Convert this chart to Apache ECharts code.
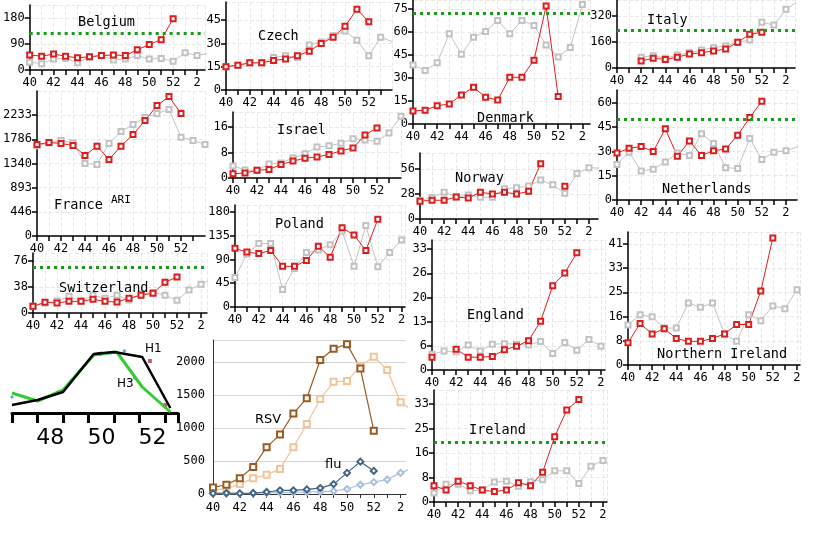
<!DOCTYPE html>
<html>
<head>
<meta charset="utf-8">
<script src="https://cdn.jsdelivr.net/npm/echarts@6/dist/echarts.min.js"></script>
<style>html,body{margin:0;background:#fff}#c{width:840px;height:560px}</style>
</head>
<body>
<div id="c"></div>
<script>
// 周次（40..52, 1, 2, 3）
const weeks = ['40','41','42','43','44','45','46','47','48','49','50','51','52','1','2','3'];

// 各国数据：红=本季，灰=上一季，绿=阈值
const belgiumRed = [52,48,55,48,42,46,50,52,50,70,88,105,177];
const belgiumGrey = [27,22,38,40,25,45,50,35,38,50,38,40,30,60,50,58];
const belgiumLimit = 128;
const czechRed = [15,16,17.5,17.5,19,20,22,25,30,34,41,52,44];
const czechGrey = [15,16,17.5,17.5,21,22,21,29,31,35,38,32,22,34,31];
const denmarkRed = [8.5,9,12,13,19,24,17.5,15.6,30.5,30.5,41.7,77,18];
const denmarkGrey = [38.5,35,40,59,45.6,56.7,60.5,67.6,59,67.6,64.4,51.6,43.7,50,78];
const denmarkLimit = 72.4;
const italyRed = [null,null,43,60,53,66,86,94,105,117,158,207,220];
const italyGrey = [null,null,66,76,60,80,94,111,125,135,158,172,281,264,361,408];
const italyLimit = 229;
const franceRed = [1692,1729,1710,1673,1489,1660,1415,1660,1876,2134,2411,2577,2264];
const franceGrey = [1666,1720,1765,1722,1341,1323,1710,1932,2060,2190,2264,2337,1827,1765,1692];
const israelRed = [1.3,1.6,2.4,2.7,4.2,5.3,6.2,6.6,7.4,8.5,9.4,13.5,15.7];
const israelGrey = [3.8,2.5,2.4,4.4,4.7,6.3,7.6,9.7,10.1,10.9,12.3,11.9,11.5,14.1,19.4];
const polandRed = [111,104,101,107,77,77,88,115,94,150,136,107,166];
const polandGrey = [56,100,120,120,33,73,103,108,118,144,77,154,76,103,127];
const norwayRed = [20,21,21,24.6,23.5,30,28,30,28,31,62,null,36.6];
const norwayGrey = [21,24,30,24.6,27,24.3,24.3,34,35,37,43.7,38.4,29,51,57.5,57];
const netherlandsRed = [29,32,33,30,44,27,36.5,27.5,30.5,31.5,40,51,61];
const netherlandsGrey = [22,29.5,18,19,23.5,29,27.5,41,35,20,19.5,38,25,29.5,30.5,33];
const netherlandsLimit = 50;
const switzerlandRed = [10,15.6,14.6,17,17,20,17,16,21.5,26,29,45,52.6];
const switzerlandGrey = [10,14.6,17.5,24.4,17.5,25.8,21.5,26,19,28,30,25.8,18.5,33.6,42,50];
const switzerlandLimit = 67.6;
const englandRed = [3.5,null,5.7,3.5,3.5,3.7,5.5,6.5,8,13.3,23,26.5,32];
const englandGrey = [4.3,5.2,5,6.8,5.2,7,7.2,7,6.8,7.8,4.5,7.5,5.4,8.3,6.5];
const nIrelandRed = [7.5,14,10.5,12.3,9,8,8,9,10.5,13.7,13.7,25,43];
const nIrelandGrey = [13.5,17,16.3,12.5,12.5,21,19.5,21,10.5,8,17,15,20,19,25.5,19];
const irelandRed = [5.5,4,7,5.5,4,3.5,4,6.5,5.5,10,22,31,34.5];
const irelandGrey = [3,6,6,3.8,4,6.7,7,5.3,6.8,7.5,10.5,10.5,6.2,12,14,12];
const irelandLimit = 20;

// 刻度标签
const englandTicks = ['0','6','13','20','26','33'];
const nIrelandTicks = ['0','8','16','25','33','41'];
const irelandTicks = ['0','8','16','25','33'];
const franceTicks = ['0','446','893','1340','1786','2233','2680'];

// RSV / flu
const rsvDark = [100,140,240,410,710,900,1220,1450,2030,2200,2270,1900,960];
const rsvLight = [60,80,150,240,290,380,710,1060,1440,1700,1710,1940,2080,1880,1390,1250];
const fluDark = [10,15,10,15,30,55,55,70,90,150,320,490,350];
const fluLight = [5,5,5,10,15,20,25,30,35,45,75,140,180,220,320,400];

// H1 / H3 片段 [周, 相对值]
const h1Line = [[46.5,8],[47.5,13],[48.5,21],[49.7,59],[50.5,61],[51.6,56],[52.7,5]];
const h3Line = [[46.5,20],[47.5,12],[48.5,23],[49.7,58],[50.6,61],[51.6,26],[52.7,1]];
const hBlueDots = [[46.5,16],[48.3,21],[50.0,60],[50.9,62],[51.3,35],[52.8,-3]];
const hRedDots = [[49.9,59],[51.9,52],[52.5,8]];

const mono = 'DejaVu Sans Mono';
const pts = arr => arr.map((v, i) => [i, v]);

// 面板布局：l=y轴x, b=x轴y, top, right=轴末端, max, interval
const panels = [
    { name: 'Belgium', red: belgiumRed, grey: belgiumGrey, limit: belgiumLimit, l: 28, b: 70, top: 5, right: 205, xpw: 12.07, max: 225, interval: 90, tx: 73, ty: 10 },
    { name: 'Czech', red: czechRed, grey: czechGrey, l: 226, b: 90, top: 2, right: 392, xpw: 11.9, max: 56.7, interval: 15, tx: 253, ty: 24 },
    { name: 'Denmark', red: denmarkRed, grey: denmarkGrey, limit: denmarkLimit, l: 413, b: 124, top: 0, right: 590, xpw: 12.1, max: 81, interval: 15, tx: 472, ty: 106 },
    { name: 'Italy', red: italyRed, grey: italyGrey, limit: italyLimit, l: 617, b: 68, top: 0, right: 795, xpw: 12.07, max: 418, interval: 160, tx: 642, ty: 8 },
    { name: 'France', red: franceRed, grey: franceGrey, l: 37, b: 236, top: 91, right: 205, xpw: 12, max: 2680, interval: 2680 / 6, ticks: franceTicks, tx: 49, ty: 193 },
    { name: 'Israel', red: israelRed, grey: israelGrey, l: 233, b: 178, top: 112, right: 401, xpw: 12, max: 20.7, interval: 8, tx: 272, ty: 118 },
    { name: 'Poland', red: polandRed, grey: polandGrey, l: 235, b: 307, top: 205, right: 405, xpw: 11.9, max: 193, interval: 45, tx: 270, ty: 212 },
    { name: 'Norway', red: norwayRed, grey: norwayGrey, l: 420, b: 219, top: 153, right: 598, xpw: 12.07, max: 74, interval: 28, tx: 450, ty: 166 },
    { name: 'Netherlands', red: netherlandsRed, grey: netherlandsGrey, limit: netherlandsLimit, l: 617, b: 200, top: 90, right: 797, xpw: 12.07, max: 68, interval: 15, tx: 657, ty: 177 },
    { name: 'Switzerland', red: switzerlandRed, grey: switzerlandGrey, limit: switzerlandLimit, l: 33, b: 313, top: 253, right: 207, xpw: 12, max: 87.7, interval: 38, tx: 54, ty: 276 },
    { name: 'England', red: englandRed, grey: englandGrey, l: 432, b: 370, top: 240, right: 605, xpw: 12.07, max: 35.5, interval: 6.6, ticks: englandTicks, tx: 462, ty: 303 },
    { name: 'Northern Ireland', red: nIrelandRed, grey: nIrelandGrey, l: 628, b: 365, top: 232, right: 800, xpw: 12.07, max: 45, interval: 8.2, ticks: nIrelandTicks, tx: 652, ty: 342 },
    { name: 'Ireland', red: irelandRed, grey: irelandGrey, limit: irelandLimit, l: 434, b: 502, top: 390, right: 607, xpw: 12.07, max: 37.7, interval: 8.25, ticks: irelandTicks, tx: 464, ty: 418 }
];

const grid = [], xAxis = [], yAxis = [], series = [], title = [];
const dash = { show: true, lineStyle: { color: '#e8e8e8', type: 'dashed' } };
const axisLine = { show: true, onZero: false, lineStyle: { color: '#000', width: 1.5 } };

panels.forEach((p, g) => {
    grid.push({ left: p.l, top: p.top, width: p.right - p.l, height: p.b - p.top });
    xAxis.push({
        type: 'value', gridIndex: g, min: 0, max: (p.right - p.l) / p.xpw, interval: 1,
        axisLine, axisTick: { length: 5, lineStyle: { color: '#000', width: 1.5 } },
        splitLine: dash,
        axisLabel: {
            fontFamily: mono, fontSize: 12, color: '#000', margin: 7, showMaxLabel: false,
            formatter: v => (Number.isInteger(v) && v % 2 === 0 && weeks[v]) ? weeks[v] : ''
        }
    });
    yAxis.push({
        type: 'value', gridIndex: g, min: 0, max: p.max, interval: p.interval,
        axisLine, axisTick: { show: true, length: 5, lineStyle: { color: '#000', width: 1.5 } },
        splitLine: dash,
        axisLabel: {
            fontFamily: mono, fontSize: 12, color: '#000', margin: 5, showMaxLabel: false,
            formatter: v => {
                const k = Math.round(v / p.interval);
                if (Math.abs(k * p.interval - v) > 1e-6) return '';
                return p.ticks ? (p.ticks[k] || '') : String(v);
            }
        }
    });
    series.push({
        type: 'line', xAxisIndex: g, yAxisIndex: g, data: pts(p.grey),
        symbol: 'emptyRect', symbolSize: 5, lineStyle: { color: '#c2c2c2', width: 1 },
        itemStyle: { color: '#c2c2c2' }, connectNulls: false, animation: false
    });
    series.push({
        type: 'line', xAxisIndex: g, yAxisIndex: g, data: pts(p.red),
        symbol: 'emptyRect', symbolSize: 5, lineStyle: { color: '#dd1c1c', width: 1 },
        itemStyle: { color: '#dd1c1c' }, connectNulls: false, animation: false,
        markLine: p.limit === undefined ? undefined : {
            silent: true, symbol: 'none', label: { show: false },
            lineStyle: { color: '#1a9a1a', type: [3, 4], width: 3 },
            data: [{ yAxis: p.limit }]
        }
    });
    title.push({ text: p.name, left: p.tx, top: p.ty, textStyle: { fontFamily: mono, fontSize: 13.5, fontWeight: 'normal', color: '#000' } });
});
title.push({ text: 'ARI', left: 106, top: 190, textStyle: { fontFamily: mono, fontSize: 11, fontWeight: 'normal', color: '#000' } });

// RSV 面板
const gr = grid.length;
grid.push({ left: 213, top: 340, width: 193, height: 154 });
xAxis.push({
    type: 'value', gridIndex: gr, min: 0, max: 193 / 13.4, interval: 1,
    axisLine: { show: true, lineStyle: { color: '#333' } },
    axisTick: { length: 4, lineStyle: { color: '#333' } }, splitLine: { show: false },
    axisLabel: { fontFamily: mono, fontSize: 12, color: '#000', showMaxLabel: false,
        formatter: v => (Number.isInteger(v) && v % 2 === 0 && weeks[v]) ? weeks[v] : '' }
});
yAxis.push({
    type: 'value', gridIndex: gr, min: 0, max: 2333, interval: 500,
    axisLine: { show: true, lineStyle: { color: '#333' } }, axisTick: { show: false },
    splitLine: { show: true, lineStyle: { color: '#d6d6d6' } },
    axisLabel: { fontFamily: mono, fontSize: 12, color: '#000', showMaxLabel: false,
        formatter: v => v % 500 === 0 ? String(v) : '' }
});
[[rsvLight, '#f2c49a', 'emptyRect'], [rsvDark, '#9a5b22', 'emptyRect'],
 [fluLight, '#a9c0dc', 'emptyDiamond'], [fluDark, '#3f6587', 'emptyDiamond']].forEach(([d, c, s]) => {
    series.push({ type: 'line', xAxisIndex: gr, yAxisIndex: gr, data: pts(d), symbol: s, symbolSize: 6,
        lineStyle: { color: c, width: 1.2 }, itemStyle: { color: c }, animation: false });
});
title.push({ text: 'RSV', left: 250, top: 408, textStyle: { fontFamily: 'DejaVu Sans', fontSize: 13, fontWeight: 'normal', color: '#000' } });
title.push({ text: 'flu', left: 320, top: 453, textStyle: { fontFamily: 'DejaVu Sans', fontSize: 13, fontWeight: 'normal', color: '#000' } });

// H1/H3 面板
const gh = grid.length;
grid.push({ left: 12, top: 340, width: 166, height: 73 });
xAxis.push({
    type: 'value', gridIndex: gh, min: 46.5, max: 53, interval: 1,
    axisLine: { show: true, lineStyle: { color: '#000', width: 3 } },
    axisTick: { length: 10, lineStyle: { color: '#000', width: 3 } },
    axisLabel: { show: false }, splitLine: { show: false }
});
xAxis.push({
    type: 'value', gridIndex: gh, position: 'bottom', min: 46.5, max: 53, interval: 0.5,
    axisLine: { show: false }, axisTick: { show: false }, splitLine: { show: false },
    axisLabel: { fontFamily: 'DejaVu Sans', fontSize: 22, color: '#000', margin: 14,
        formatter: v => (Number.isInteger(v) && v % 2 === 0) ? String(v) : '' }
});
yAxis.push({ type: 'value', gridIndex: gh, min: 0, max: 73, show: false });
const hx2 = xAxis.length - 1;
series.push({ type: 'line', xAxisIndex: hx2 - 1, yAxisIndex: yAxis.length - 1, data: h3Line, symbol: 'none',
    lineStyle: { color: '#33cc33', width: 3 }, animation: false });
series.push({ type: 'line', xAxisIndex: hx2 - 1, yAxisIndex: yAxis.length - 1, data: h1Line, symbol: 'none',
    lineStyle: { color: '#000', width: 2.5 }, animation: false });
series.push({ type: 'scatter', xAxisIndex: hx2 - 1, yAxisIndex: yAxis.length - 1, data: hBlueDots, symbol: 'diamond',
    symbolSize: 4, itemStyle: { color: '#3a8fc6' }, animation: false });
series.push({ type: 'scatter', xAxisIndex: hx2 - 1, yAxisIndex: yAxis.length - 1, data: hRedDots, symbol: 'rect',
    symbolSize: 4, itemStyle: { color: '#b83a3a' }, animation: false });
title.push({ text: 'H1', left: 140, top: 338, textStyle: { fontFamily: 'DejaVu Sans', fontSize: 12, fontWeight: 'normal', color: '#000' } });
title.push({ text: 'H3', left: 112, top: 373, textStyle: { fontFamily: 'DejaVu Sans', fontSize: 12, fontWeight: 'normal', color: '#000' } });

const chart = echarts.init(document.getElementById('c'));
chart.setOption({ animation: false, title, grid, xAxis, yAxis, series });
</script>
</body>
</html>
